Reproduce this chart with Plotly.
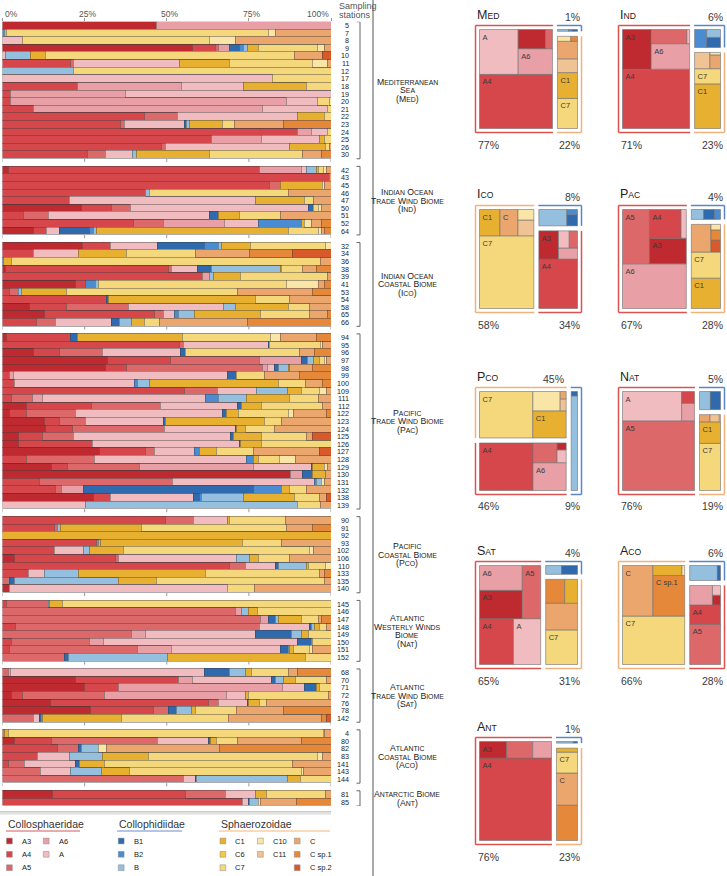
import plotly.graph_objects as go

FIG_W, FIG_H = 727, 876
FONT = "Liberation Sans, Arial, Helvetica, sans-serif"

# ---------------------------------------------------------------- categories
SPECIES = ["A3", "A4", "A5", "A6", "A", "B1", "B2", "B", "C1", "C6", "C7",
           "C10", "C11", "C", "C sp.1", "C sp.2"]
SPECIES_COLORS = {
    "A3": "#be2a2f", "A4": "#d6474c", "A5": "#dd6869", "A6": "#e8a0a6", "A": "#f1bcc0",
    "B1": "#2f6aae", "B2": "#4b8bd2", "B": "#94bfdf",
    "C1": "#e8b031", "C6": "#f2c846", "C7": "#f5d77c", "C10": "#f9e5a5",
    "C11": "#f0c394", "C": "#eba66d", "C sp.1": "#e5883a", "C sp.2": "#d85a2b",
}
FAMILIES = ["Collosphaeridae", "Collophidiidae", "Sphaerozoidae"]
FAMILY_COLORS = {"Collosphaeridae": "#d9534f", "Collophidiidae": "#5b86c5",
                 "Sphaerozoidae": "#f0b27c"}
FAMILY_UNDERLINE = {"Collosphaeridae": "#e48f8f", "Collophidiidae": "#9db3dd",
                    "Sphaerozoidae": "#f7cfa5"}

REGIONS = ["Med", "Ind", "Ico", "Pac", "Pco", "Nat", "Sat", "Aco", "Ant"]
REGION_LABEL_LINES = {
    "Med": ["Mediterranean", "Sea", "(Med)"],
    "Ind": ["Indian Ocean", "Trade Wind Biome", "(Ind)"],
    "Ico": ["Indian Ocean", "Coastal Biome", "(Ico)"],
    "Pac": ["Pacific", "Trade Wind Biome", "(Pac)"],
    "Pco": ["Pacific", "Coastal Biome", "(Pco)"],
    "Nat": ["Atlantic", "Westerly Winds", "Biome", "(Nat)"],
    "Sat": ["Atlantic", "Trade Wind Biome", "(Sat)"],
    "Aco": ["Atlantic", "Coastal Biome", "(Aco)"],
    "Ant": ["Antarctic Biome", "(Ant)"],
}
X_TICKS = [0, 25, 50, 75, 100]
X_TICK_TEXT = ["0%", "25%", "50%", "75%", "100%"]

# ---------------------------------------------------------------- station data (% of reads)
MED_STATIONS = [5, 7, 8, 9, 10, 11, 12, 17, 18, 19, 20, 21, 22, 23, 24, 25, 26, 30]
MED_COMPOSITION = [
    {"A3": 47, "A6": 53},
    {"B2": 0.5, "B": 0.7, "C7": 79.8, "C10": 2, "C": 17},
    {"A": 6, "C7": 57, "C10": 8, "C": 29},
    {"A3": 57.7, "A4": 7, "A5": 1.2, "A6": 3.1, "B1": 3, "B2": 1.3, "B": 1.2, "C1": 3.4, "C7": 18.1, "C10": 2, "C": 2},
    {"A": 1, "B": 7.5, "C1": 4.7, "C7": 75.8, "C": 8.5, "C sp.2": 2.5},
    {"A4": 20.8, "A5": 0.9, "A": 32.3, "C1": 15, "C7": 25.5, "C10": 4.5, "C": 1},
    {"B": 21.7, "C7": 78.3},
    {"A": 82.2, "C7": 17.8},
    {"A4": 22.8, "A6": 31.7, "A": 19, "C1": 19.1, "C7": 7.4},
    {"A4": 2.5, "A6": 35, "A": 62.5},
    {"A4": 2.5, "A6": 84, "A": 9.5, "C7": 3.5, "C10": 0.5},
    {"A4": 9.3, "A6": 69.7, "A": 20, "C7": 1},
    {"A4": 43.1, "A5": 10.2, "A": 36.4, "C1": 8.3, "C7": 2},
    {"A4": 36, "A5": 1, "A": 18.5, "B1": 0.5, "B": 0.9, "C1": 10.1, "C7": 3.5, "C": 15, "C sp.1": 14.5},
    {"A4": 89.8, "A6": 4.2, "A": 5, "C7": 1},
    {"A4": 63.5, "A6": 15.2, "A": 17.9, "C1": 1.4, "C7": 2},
    {"A4": 48.4, "A5": 1.1, "A": 37.8, "C1": 10.9, "C7": 1.3, "C": 0.5},
    {"A4": 26, "A5": 5.3, "A": 8.3, "B": 1.2, "C1": 22.2, "C7": 28.4, "C": 5.8, "C sp.1": 2.8},
]
IND_STATIONS = [42, 43, 45, 46, 47, 50, 51, 52, 64]
IND_COMPOSITION = [
    {"A3": 1.7, "A4": 76.5, "A6": 12.8, "A": 1.4, "B": 3.2, "C1": 0.7, "C7": 1.3, "C10": 0.9, "C": 1.5},
    {"A4": 99.5, "C": 0.5},
    {"A4": 81.2, "A5": 3.3, "C1": 13, "C10": 0.5, "C": 2},
    {"A4": 43.6, "B": 1, "C7": 42.4, "C": 13},
    {"A4": 20.3, "A": 56.6, "C1": 14.9, "C7": 2.8, "C": 5.4},
    {"A3": 23.9, "A4": 9.3, "A5": 5.8, "A": 54.1, "B1": 1.5, "C7": 1.5, "C10": 0.9, "C": 3},
    {"A4": 6.3, "A5": 7.6, "A": 49.2, "B1": 2.6, "C1": 6.4, "C7": 12.4, "C": 15.5},
    {"A4": 39.8, "A5": 9.1, "A6": 18.8, "A": 10.2, "B2": 13.2, "C1": 0.9, "C10": 2, "C": 3, "C sp.1": 3},
    {"A3": 9.3, "A4": 4.1, "A": 3.9, "B1": 9.1, "B2": 1.2, "B": 0.9, "C1": 58.5, "C7": 9.1, "C10": 0.9, "C": 1, "C sp.1": 2},
]
ICO_STATIONS = [32, 34, 36, 38, 39, 41, 53, 54, 58, 65, 66]
ICO_COMPOSITION = [
    {"A3": 24.4, "A4": 8.6, "A": 14.1, "B1": 14.3, "B2": 4.3, "B": 1, "C1": 8.8, "C7": 22.7, "C10": 1.8},
    {"A4": 9.3, "A": 13.7, "C1": 14.8, "C7": 20.8, "C": 16.7, "C sp.1": 13, "C sp.2": 11.7},
    {"B1": 0.4, "C1": 2.3, "C7": 94.2, "C": 3.1},
    {"A3": 1, "A4": 49.5, "A5": 1, "A": 7.8, "B1": 4.4, "B": 20.8, "C1": 0.5, "C7": 6.4, "C": 4.2, "C sp.1": 4.4},
    {"A4": 60.8, "A6": 2.3, "B": 1.1, "C1": 8.1, "C7": 26.7, "C": 1},
    {"A3": 22.3, "A4": 3.1, "B2": 3, "B": 0.7, "C7": 57.4, "C10": 9.6, "C": 1.9, "C sp.1": 2},
    {"A4": 2.2, "A5": 2.6, "B": 1, "C1": 13.7, "C7": 52, "C": 22.8, "C sp.1": 5.7},
    {"A4": 31.7, "B1": 0.5, "C1": 44.7, "C7": 10.4, "C": 12.7},
    {"A3": 8.3, "A4": 11.2, "A5": 18.8, "A": 29.1, "B": 3.4, "C1": 16.4, "C7": 6.4, "C": 6.4},
    {"A3": 12.7, "A4": 33.5, "A5": 2.7, "A": 3.6, "B2": 1, "B": 4.9, "C1": 20, "C7": 15.2, "C": 5.4, "C sp.1": 1},
    {"A4": 10.2, "A5": 6, "A": 17, "B1": 2.5, "B": 3.6, "C1": 3.8, "C7": 4.6, "C": 26.8, "C sp.1": 25.5},
]
PAC_STATIONS = [94, 95, 96, 97, 98, 99, 100, 109, 111, 112, 122, 123, 124, 125, 126,
                127, 128, 129, 130, 131, 132, 138, 139]
PAC_COMPOSITION = [
    {"A3": 1.2, "A4": 19.6, "B1": 2, "C1": 32, "C7": 26.8, "C10": 3.1, "C": 10.9, "C sp.1": 4.4},
    {"A4": 54, "A5": 1, "A": 25.9, "B1": 0.5, "C7": 15.5, "C10": 0.6, "C": 2.5},
    {"A3": 9.5, "A4": 8, "A5": 13, "A": 23.7, "B1": 1.6, "C7": 34.6, "C": 4.7, "C sp.1": 4.9},
    {"A3": 31.9, "A4": 19.3, "A5": 27, "A6": 12.7, "B1": 2, "B": 1.7, "C1": 2, "C7": 1.5, "C10": 0.4, "C": 1.5},
    {"A3": 31.5, "A4": 6.1, "A5": 41.5, "A6": 1.6, "A": 2.2, "B1": 1.1, "B": 3, "C1": 0.5, "C": 6.9, "C sp.1": 5.6},
    {"A4": 2.2, "A6": 1, "A": 65.2, "B1": 2.7, "C7": 8.8, "C": 10.5, "C sp.1": 9.6},
    {"A4": 3.8, "A": 36.5, "B2": 0.7, "B": 3.7, "C1": 39.3, "C7": 8.1, "C": 5.4, "C sp.1": 2.5},
    {"A4": 55.5, "A5": 10, "A": 11.7, "B": 9.5, "C1": 4.4, "C7": 5.3, "C10": 2.1, "C": 1.5},
    {"A4": 2.7, "A5": 6.4, "A6": 3.1, "A": 49.7, "B2": 3.8, "B": 8.6, "C1": 13, "C7": 8.8, "C": 3.9},
    {"A3": 7.3, "A4": 19.8, "A5": 21, "A": 23.4, "B1": 1.3, "C1": 6.1, "C7": 18.6, "C": 2.5},
    {"A3": 2.2, "A4": 5.1, "A5": 15, "A": 44.7, "B1": 1.2, "C1": 3.6, "C7": 15.2, "C10": 1.5, "C": 10, "C sp.1": 1.5},
    {"A3": 12.7, "A4": 4.6, "A5": 8.1, "A": 23.5, "B1": 0.6, "C1": 30.4, "C7": 5.1, "C": 15},
    {"A3": 13.2, "A4": 8.1, "A5": 28.1, "A": 21.4, "B1": 0.4, "C1": 2.9, "C7": 8.8, "C": 17.1},
    {"A3": 4.8, "A4": 7.4, "A5": 9.5, "A": 47.8, "B1": 0.8, "C1": 8.4, "C7": 13.7, "C": 2, "C sp.2": 5.6},
    {"A3": 4.8, "A4": 22.6, "A": 44.6, "B1": 0.5, "C1": 6.4, "C7": 21.1},
    {"A3": 29.4, "A4": 14, "A5": 3, "A": 12, "B2": 1.5, "C1": 5.3, "C7": 11.3, "C": 20.1, "C sp.2": 3.4},
    {"A4": 7.3, "A5": 20.6, "A": 46.4, "B2": 2, "C1": 1.6, "C7": 6.4, "C10": 5, "C": 10.7},
    {"A3": 14.9, "A4": 4.9, "A5": 21.8, "A6": 34.7, "A": 17.8, "B1": 0.4, "C1": 3.5, "C10": 1, "C": 1},
    {"A3": 87.8, "A6": 3.6, "B1": 2.9, "C1": 3.9, "C": 1.8},
    {"A4": 11.2, "A5": 40.6, "A": 43.1, "B2": 0.6, "B": 1.7, "C10": 0.8, "C": 2},
    {"A4": 16.2, "A5": 1.8, "A6": 6.6, "B1": 51.7, "B2": 8.7, "C1": 2.3, "C7": 5.1, "C": 7.6},
    {"A3": 27.6, "A4": 5.4, "A": 25.1, "B1": 1.8, "B2": 0.6, "B": 13, "C1": 15.5, "C7": 7.4, "C": 2.3, "C sp.2": 1.3},
    {"A": 25.4, "B": 64.4, "C7": 7.1, "C": 3.1},
]
PCO_STATIONS = [90, 91, 92, 93, 102, 106, 110, 133, 135, 140]
PCO_COMPOSITION = [
    {"A4": 49.7, "A5": 8.4, "A": 10.3, "C1": 0.6, "C7": 17, "C": 14},
    {"A4": 15.7, "A5": 0.9, "B": 1.2, "C1": 24.5, "C7": 44.2, "C": 7.8, "C sp.1": 5.7},
    {"C1": 100},
    {"A4": 28.6, "A5": 0.7, "B": 0.6, "C1": 43.2, "C7": 11.7, "C": 15.2},
    {"A4": 15.9, "A": 8.7, "B": 1.8, "C1": 10.4, "C7": 56.6, "C10": 1.2, "C": 5.4},
    {"A3": 3.5, "A4": 31, "A5": 0.7, "A": 36.1, "B": 3.8, "C1": 2.8, "C7": 9.4, "C": 12.7},
    {"A4": 69, "A5": 5.1, "A": 9.1, "B1": 0.8, "B": 8.4, "C1": 0.6, "C7": 5.2, "C10": 1.8},
    {"A4": 7.8, "A": 5.1, "B": 10.1, "C1": 38.9, "C7": 34.7, "C": 1.4, "C sp.1": 2},
    {"A5": 1.7, "A": 0.5, "B1": 1.3, "B": 31.7, "C1": 11.7, "C7": 51, "C": 2.1},
    {"A3": 2, "A": 66.4, "C7": 8.2, "C": 23.4},
]
NAT_STATIONS = [145, 146, 147, 148, 149, 150, 151, 152]
NAT_COMPOSITION = [
    {"A4": 1.2, "A5": 12.7, "B": 0.5, "C1": 3.9, "C7": 81.7},
    {"A5": 70.8, "A6": 2, "B": 2, "C1": 2.9, "C7": 22.3},
    {"A5": 78.4, "A6": 2.5, "B1": 2.3, "B": 0.8, "C1": 7.1, "C7": 5, "C": 0.9, "C sp.1": 3},
    {"A4": 4.1, "A5": 74.1, "A": 15.2, "B1": 0.8, "B": 0.8, "C1": 1.5, "C7": 2, "C": 1.5},
    {"A5": 39.3, "A6": 4.1, "A": 33.5, "B1": 11.1, "B": 2.9, "C1": 2.2, "C7": 6.9},
    {"A4": 2.7, "A5": 23.7, "A6": 4.3, "A": 59.1, "B1": 4.3, "C1": 0.4, "C7": 5.5},
    {"A4": 2.2, "A5": 38.9, "A6": 10.2, "A": 33.2, "B1": 2.5, "B": 0.5, "C1": 1, "C7": 5.1, "C10": 0.9, "C": 5.5},
    {"A5": 19, "B1": 1, "B": 30.3, "C1": 42, "C7": 7.7},
]
SAT_STATIONS = [68, 70, 71, 72, 76, 78, 142]
SAT_COMPOSITION = [
    {"A5": 1.7, "A6": 0.8, "A": 59.1, "B1": 7.6, "B": 4.9, "C1": 1.7, "C7": 11.2, "C": 2.8, "C sp.1": 10.2},
    {"A3": 22.3, "A4": 31.4, "A6": 4.2, "A": 24, "B1": 1.1, "B": 2.5, "C1": 3.8, "C7": 9.2, "C": 1.5},
    {"A3": 24.9, "A4": 10.5, "A6": 49.9, "A": 6.5, "B1": 3.8, "C1": 0.8, "C7": 3.6},
    {"A3": 2.7, "A4": 3.4, "A5": 24.8, "A6": 37.3, "A": 5.9, "C1": 0.9, "C7": 24.2, "C": 0.8},
    {"A3": 14.7, "A4": 47.9, "A5": 3.1, "A": 8.8, "B1": 0.5, "C1": 3.2, "C7": 2.2, "C": 19.6},
    {"A3": 26.9, "A4": 19, "A5": 4.6, "B1": 2.5, "B": 4.6, "C1": 1, "C7": 12.5, "C": 14.4, "C sp.1": 14.5},
    {"A5": 9.5, "A": 1.7, "B1": 0.6, "B": 0.4, "C1": 24, "C7": 32.7, "C": 28.3, "C sp.1": 1.3, "C sp.2": 1.5},
]
ACO_STATIONS = [4, 80, 82, 83, 141, 143, 144]
ACO_COMPOSITION = [
    {"A5": 0.5, "C1": 1.2, "C7": 96, "C10": 0.3, "C": 2},
    {"A3": 3.8, "A4": 11.1, "A5": 32.3, "A": 15.6, "B1": 0.5, "C1": 1.9, "C7": 6.3, "C": 19.6, "C sp.1": 8.9},
    {"A4": 16.8, "A5": 6.2, "B1": 1.1, "B": 5.2, "C10": 2.4, "C": 34.3, "C sp.1": 34},
    {"A4": 10.6, "A": 9.7, "B": 10.1, "C1": 14, "C7": 51.5, "C10": 1.6, "C": 2.5},
    {"A4": 1.7, "A5": 5.1, "A": 15.5, "B1": 1.1, "C1": 7.8, "C7": 57.1, "C": 11.7},
    {"A5": 11.6, "A": 9.2, "B": 9.2, "C1": 8.8, "C7": 52.1, "C10": 0.6, "C": 8.5},
    {"A5": 55.2, "A": 3.4, "B1": 0.4, "B": 27.7, "C1": 4.1, "C7": 9.2},
]
ANT_STATIONS = [81, 85]
ANT_COMPOSITION = [
    {"A3": 15.2, "A4": 40.6, "A5": 12.2, "A": 8.9, "C1": 3.5, "C7": 17.8, "C": 1.8},
    {"A4": 73, "A": 1.8, "B1": 0.4, "B": 2.7, "C10": 0.6, "C": 11.1, "C sp.1": 10.4},
]
STATIONS = {"Med": MED_STATIONS, "Ind": IND_STATIONS, "Ico": ICO_STATIONS, "Pac": PAC_STATIONS,
            "Pco": PCO_STATIONS, "Nat": NAT_STATIONS, "Sat": SAT_STATIONS, "Aco": ACO_STATIONS,
            "Ant": ANT_STATIONS}
COMPOSITION = {"Med": MED_COMPOSITION, "Ind": IND_COMPOSITION, "Ico": ICO_COMPOSITION,
               "Pac": PAC_COMPOSITION, "Pco": PCO_COMPOSITION, "Nat": NAT_COMPOSITION,
               "Sat": SAT_COMPOSITION, "Aco": ACO_COMPOSITION, "Ant": ANT_COMPOSITION}

# ---------------------------------------------------------------- regional treemaps
TREE_MED = [("Collosphaeridae", 77, [("A4", 42.1), ("A", 18.5), ("A6", 9.4), ("A3", 5.6), ("A5", 1.4)]),
            ("Sphaerozoidae", 22, [("C7", 7.2), ("C1", 6.2), ("C11", 3.3), ("C", 4.2), ("C10", 0.8), ("C sp.1", 0.4)]),
            ("Collophidiidae", 1, [("B", 0.55), ("B2", 0.2), ("B1", 0.25)])]
TREE_IND = [("Collosphaeridae", 71, [("A4", 42.6), ("A3", 12.2), ("A6", 10.5), ("A5", 5.4), ("A", 0.4)]),
            ("Sphaerozoidae", 23, [("C1", 13.5), ("C7", 4.6), ("C11", 2.9), ("C", 1.7), ("C10", 0.3)]),
            ("Collophidiidae", 6, [("B2", 2.8), ("B1", 1.8), ("B", 1.4)])]
TREE_ICO = [("Sphaerozoidae", 58, [("C7", 42.6), ("C1", 5.8), ("C", 5.1), ("C11", 2.7), ("C10", 1.8)]),
            ("Collosphaeridae", 34, [("A4", 21.7), ("A3", 6.3), ("A6", 2.4), ("A", 2.1), ("A5", 1.6)]),
            ("Collophidiidae", 8, [("B", 5.8), ("B1", 1.5), ("B2", 0.7)])]
TREE_PAC = [("Collosphaeridae", 67, [("A6", 30.2), ("A5", 15.5), ("A3", 10.0), ("A4", 9.6), ("A", 1.6)]),
            ("Sphaerozoidae", 28, [("C1", 10.1), ("C7", 8.7), ("C", 6.2), ("C sp.2", 1.3), ("C sp.1", 1.1), ("C10", 0.6)]),
            ("Collophidiidae", 4, [("B", 1.7), ("B1", 1.5), ("B2", 0.8)])]
TREE_PCO = [("Collosphaeridae", 46, [("A4", 28.4), ("A6", 10.3), ("A5", 5.3), ("A", 1.3), ("A3", 0.7)]),
            ("Sphaerozoidae", 45, [("C7", 27.7), ("C1", 10.1), ("C10", 5.9), ("C11", 0.8), ("C", 0.5)]),
            ("Collophidiidae", 9, [("B", 8.6), ("B1", 0.4)])]
TREE_NAT = [("Collosphaeridae", 76, [("A5", 53.5), ("A", 18.5), ("A6", 2.4), ("A4", 1.6)]),
            ("Sphaerozoidae", 19, [("C7", 11.8), ("C1", 5.4), ("C", 0.9), ("C11", 0.8), ("C10", 0.1)]),
            ("Collophidiidae", 5, [("B", 2.6), ("B1", 2.4)])]
TREE_SAT = [("Collosphaeridae", 65, [("A4", 16.7), ("A", 13.4), ("A3", 13.0), ("A6", 11.4), ("A5", 10.5)]),
            ("Sphaerozoidae", 31, [("C7", 12.6), ("C", 9.7), ("C sp.1", 5.2), ("C1", 3.5)]),
            ("Collophidiidae", 4, [("B", 2.0), ("B1", 2.0)])]
TREE_ACO = [("Sphaerozoidae", 66, [("C7", 32.3), ("C", 16.5), ("C sp.1", 13.8), ("C1", 3.1), ("C10", 0.3)]),
            ("Collosphaeridae", 28, [("A5", 14.2), ("A4", 6.9), ("A6", 5.1), ("A3", 0.9), ("A", 0.9)]),
            ("Collophidiidae", 6, [("B", 5.4), ("B1", 0.6)])]
TREE_ANT = [("Collosphaeridae", 76, [("A4", 63.3), ("A3", 4.8), ("A5", 4.6), ("A6", 3.3)]),
            ("Sphaerozoidae", 23, [("C sp.1", 8.8), ("C", 8.0), ("C7", 5.2), ("C1", 1.0)]),
            ("Collophidiidae", 1, [("B", 0.8), ("B1", 0.2)])]
TREES = {"Med": TREE_MED, "Ind": TREE_IND, "Ico": TREE_ICO, "Pac": TREE_PAC, "Pco": TREE_PCO,
         "Nat": TREE_NAT, "Sat": TREE_SAT, "Aco": TREE_ACO, "Ant": TREE_ANT}
TREE_LABELS = {
    "Med": ["A", "A6", "A4", "C1", "C7"],
    "Ind": ["A3", "A6", "A4", "C7", "C1"],
    "Ico": ["C1", "C", "C7", "A3", "A4"],
    "Pac": ["A5", "A4", "A3", "A6", "C7", "C1"],
    "Pco": ["C7", "C1", "A4", "A6", "B"],
    "Nat": ["A", "A5", "B", "C1", "C7"],
    "Sat": ["A6", "A5", "A3", "A4", "A", "C7"],
    "Aco": ["C", "C sp.1", "C7", "A4", "A5"],
    "Ant": ["A3", "A4", "C7", "C", "C sp.1"],
}

# ---------------------------------------------------------------- layout geometry (px)
BAR_X0, BAR_X1 = 2.5, 331.0
BAR_Y0, BAR_Y1 = 21.7, 806.0
PANEL_POS = {"Med": (475, 25), "Ind": (618, 25), "Ico": (475, 205), "Pac": (618, 205),
             "Pco": (475, 387), "Nat": (618, 387), "Sat": (475, 561), "Aco": (618, 561),
             "Ant": (475, 737)}
BOX_W, BOX_H, BOX_INSET = 98.0, 99.0, 4.5
GAP, BRK = 5.0, 4.0


def fx(px):
    return px / FIG_W


def fy(py):
    return 1 - py / FIG_H


def small_caps(text, small):
    out, run, run_small = "", "", None

    def flush(r, s):
        if not r:
            return ""
        return f'<span style="font-size:{small}px">{r}</span>' if s else r

    for ch in text:
        s = ch.islower()
        if run_small is None or s == run_small:
            run += ch.upper()
            run_small = s
        else:
            out += flush(run, run_small)
            run, run_small = ch.upper(), s
    out += flush(run, run_small)
    return out


def squarify(values, x0, y0, x1, y1):
    """d3 squarified treemap (ratio 1), y pointing down."""
    n = len(values)
    rects = [None] * n
    value = float(sum(values))
    i0 = 0
    while i0 < n:
        dx, dy = x1 - x0, y1 - y0
        i1 = i0
        sumv = values[i1]
        i1 += 1
        minv = maxv = sumv
        alpha = max(dy / dx, dx / dy) / value
        beta = sumv * sumv * alpha
        min_ratio = max(maxv / beta, beta / minv)
        while i1 < n:
            nv = values[i1]
            sumv += nv
            minv, maxv = min(minv, nv), max(maxv, nv)
            beta = sumv * sumv * alpha
            new_ratio = max(maxv / beta, beta / minv)
            if new_ratio > min_ratio:
                sumv -= nv
                break
            min_ratio = new_ratio
            i1 += 1
        if dx < dy:
            h = dy * sumv / value
            xx = x0
            for k in range(i0, i1):
                w = dx * values[k] / sumv
                rects[k] = (xx, y0, xx + w, y0 + h)
                xx += w
            y0 += h
        else:
            w = dx * sumv / value
            yy = y0
            for k in range(i0, i1):
                h = dy * values[k] / sumv
                rects[k] = (x0, yy, x0 + w, yy + h)
                yy += h
            x0 += w
        value -= sumv
        i0 = i1
    return rects


fig = go.Figure()
shapes, annotations = [], []

# ---------------------------------------------------------------- stacked bars
positions, station_labels, comps = [], [], []
group_spans = {}
pos = 0
for r in REGIONS:
    start = pos
    for st, comp in zip(STATIONS[r], COMPOSITION[r]):
        positions.append(pos)
        station_labels.append(str(st))
        comps.append(comp)
        pos += 1
    group_spans[r] = (start, pos - 1)
    pos += 1
n_rows = pos - 1
row_px = (BAR_Y1 - BAR_Y0) / n_rows

for s in SPECIES:
    xs = [c.get(s) for c in comps]
    if all(v is None for v in xs):
        continue
    fig.add_trace(go.Bar(
        x=xs, y=positions, orientation="h", name=s,
        marker=dict(color=SPECIES_COLORS[s], line=dict(color="rgba(60,60,60,0.85)", width=0.5)),
        hoverinfo="skip", showlegend=False))

# station numbers
for p, lab in zip(positions, station_labels):
    annotations.append(dict(x=fx(351), y=p, xref="paper", yref="y", text=lab, showarrow=False,
                            xanchor="right", yanchor="middle",
                            font=dict(size=7.2, color="#222", family=FONT)))

# group brackets, labels and tick marks under each group
for gi, r in enumerate(REGIONS):
    a, b = group_spans[r]
    top, bot = a - 0.5, b + 0.5
    shapes.append(dict(type="line", xref="paper", yref="y", x0=fx(360), x1=fx(360), y0=top, y1=bot,
                       line=dict(color="#555", width=0.9)))
    for yy in (top, bot):
        shapes.append(dict(type="line", xref="paper", yref="y", x0=fx(356.5), x1=fx(360), y0=yy, y1=yy,
                           line=dict(color="#555", width=0.9)))
    lines = REGION_LABEL_LINES[r]
    nl = len(lines)
    for i, ln in enumerate(lines):
        annotations.append(dict(x=fx(407), y=(a + b) / 2, xref="paper", yref="y",
                                yshift=((nl - 1) / 2 - i) * 8.7,
                                text=small_caps(ln, 6.9), showarrow=False, xanchor="center",
                                yanchor="middle", font=dict(size=8.7, color="#222", family=FONT)))
    if gi < len(REGIONS) - 1:
        for t in X_TICKS:
            shapes.append(dict(type="line", xref="x", yref="y", x0=t, x1=t, y0=bot,
                               y1=bot + 3.2 / row_px, line=dict(color="#999", width=1)))

# top axis labels
for t, txt in zip(X_TICKS, X_TICK_TEXT):
    xp = BAR_X0 + (BAR_X1 - BAR_X0) * t / 100
    anchor = "left" if t == 0 else ("right" if t == 100 else "center")
    if anchor == "center":
        xp += 2.5
    annotations.append(dict(x=fx(xp), y=fy(13.5), xref="paper", yref="paper", text=txt,
                            showarrow=False, xanchor=anchor, yanchor="middle",
                            font=dict(size=8.5, color="#555", family=FONT)))
annotations.append(dict(x=fx(337), y=fy(5.5), xref="paper", yref="paper", text="Sampling",
                        showarrow=False, xanchor="left", yanchor="middle",
                        font=dict(size=9, color="#555", family=FONT)))
annotations.append(dict(x=fx(337), y=fy(14.5), xref="paper", yref="paper", text="stations",
                        showarrow=False, xanchor="left", yanchor="middle",
                        font=dict(size=9, color="#555", family=FONT)))

# separator line
shapes.append(dict(type="line", xref="paper", yref="paper", x0=fx(373), x1=fx(373), y0=0, y1=1,
                   line=dict(color="#555", width=1)))

# ---------------------------------------------------------------- legend
shapes.append(dict(type="line", xref="paper", yref="paper", x0=fx(0), x1=fx(331), y0=fy(811.8),
                   y1=fy(811.8), line=dict(color="#bdbdbd", width=1.3)))
shapes.append(dict(type="line", xref="paper", yref="paper", x0=fx(0), x1=fx(331), y0=fy(813.8),
                   y1=fy(813.8), line=dict(color="#d8d8d8", width=1.3)))
LEGEND_HEAD_X = {"Collosphaeridae": (6, 80), "Collophidiidae": (117, 182), "Sphaerozoidae": (219, 330)}
for fam, (x0, x1) in LEGEND_HEAD_X.items():
    annotations.append(dict(x=fx(x0), y=fy(823.5), xref="paper", yref="paper", text=fam,
                            showarrow=False, xanchor="left", yanchor="middle",
                            font=dict(size=10.5, color="#333", family=FONT)))
    shapes.append(dict(type="line", xref="paper", yref="paper", x0=fx(x0), x1=fx(x1), y0=fy(831),
                       y1=fy(831), line=dict(color=FAMILY_UNDERLINE[fam], width=1.6)))
LEGEND_COLS = {"A3": (6.5, 0), "A4": (6.5, 1), "A5": (6.5, 2), "A6": (43.3, 0), "A": (43.3, 1),
               "B1": (118.3, 0), "B2": (118.3, 1), "B": (118.3, 2),
               "C1": (220, 0), "C6": (220, 1), "C7": (220, 2), "C10": (257.5, 0), "C11": (257.5, 1),
               "C": (294.3, 0), "C sp.1": (294.3, 1), "C sp.2": (294.3, 2)}
LEGEND_ROWS = [841, 854.3, 867.7]
for s in SPECIES:
    cx, row = LEGEND_COLS[s]
    cy = LEGEND_ROWS[row]
    shapes.append(dict(type="rect", xref="paper", yref="paper", x0=fx(cx), x1=fx(cx + 5.8),
                       y0=fy(cy + 2.9), y1=fy(cy - 2.9), fillcolor=SPECIES_COLORS[s],
                       line=dict(color="#8a8a8a", width=0.5)))
    annotations.append(dict(x=fx(cx + 13.3), y=fy(cy), xref="paper", yref="paper", text=s,
                            showarrow=False, xanchor="left", yanchor="middle",
                            font=dict(size=7.5, color="#222", family=FONT)))

# ---------------------------------------------------------------- regional treemaps
for r in REGIONS:
    PX, PY = PANEL_POS[r]
    bx0, by0 = PX + BOX_INSET, PY + BOX_INSET
    tree = TREES[r]
    fam_rects = squarify([f[1] for f in tree], 0.0, 0.0, 1.0, 1.0)
    eps = 1e-6
    annotations.append(dict(x=fx(PX), y=fy(PY - 10.5), xref="paper", yref="paper",
                            text=small_caps(r, 8.6), showarrow=False, xanchor="left",
                            yanchor="middle", font=dict(size=12.5, color="#222", family=FONT)))
    for (fam, pct, items), (ux0, uy0, ux1, uy1) in zip(tree, fam_rects):
        fy0, fy1 = 1 - uy1, 1 - uy0  # flip vertically: first rows at bottom
        left, right = ux0 < eps, ux1 > 1 - eps
        top, bottom = fy0 < eps, fy1 > 1 - eps
        X0, X1 = bx0 + ux0 * BOX_W, bx0 + ux1 * BOX_W
        Y0, Y1 = by0 + fy0 * BOX_H, by0 + fy1 * BOX_H
        if not left:
            X0 += GAP / 2
        if not right:
            X1 -= GAP / 2
        if not top:
            Y0 += GAP / 2
        if not bottom:
            Y1 -= GAP / 2
        labels_set = set(TREE_LABELS[r])
        fig.add_trace(go.Treemap(
            ids=[sp for sp, _ in items], labels=[sp for sp, _ in items],
            parents=[""] * len(items), values=[v for _, v in items],
            text=[sp if sp in labels_set else "" for sp, _ in items],
            texttemplate="%{text}", textposition="top left",
            textfont=dict(size=7.5, color="#3a3a3a", family=FONT),
            insidetextfont=dict(size=7.5, color="#3a3a3a", family=FONT),
            marker=dict(colors=[SPECIES_COLORS[sp] for sp, _ in items],
                        line=dict(color="#707070", width=0.6), pad=dict(t=0, l=0, r=0, b=0)),
            tiling=dict(packing="squarify", squarifyratio=1, flip="y", pad=0),
            sort=False, pathbar=dict(visible=False), hoverinfo="skip",
            domain=dict(x=[fx(X0), fx(X1)], y=[fy(Y1), fy(Y0)])))
        col = FAMILY_COLORS[fam]
        xa = X0 - BRK if left else X0 - 0.5
        xb = X1 + BRK if right else X1 + 0.5
        ya = Y0 - BRK if top else Y0
        yb = Y1 + BRK if bottom else Y1
        segs = []
        if top:
            segs.append((xa, Y0 - BRK, xb, Y0 - BRK))
        if bottom:
            segs.append((xa, Y1 + BRK, xb, Y1 + BRK))
        if left:
            segs.append((X0 - BRK, ya, X0 - BRK, yb))
        if right:
            segs.append((X1 + BRK, ya, X1 + BRK, yb))
        for (sx0, sy0, sx1, sy1) in segs:
            shapes.append(dict(type="line", xref="paper", yref="paper", x0=fx(sx0), x1=fx(sx1),
                               y0=fy(sy0), y1=fy(sy1), line=dict(color=col, width=1.5)))
        if bottom:
            ly = Y1 + BRK + 12
            if left:
                lx, anc = X0 - BRK, "left"
            else:
                lx, anc = (X1 + BRK if right else X1), "right"
        else:
            ly = Y0 - BRK - 8.5
            lx, anc = (X1 + BRK if right else X1), "right"
        annotations.append(dict(x=fx(lx), y=fy(ly), xref="paper", yref="paper", text=f"{pct}%",
                                showarrow=False, xanchor=anc, yanchor="middle",
                                font=dict(size=10.5, color="#3a3a3a", family=FONT)))

fig.update_layout(
    width=FIG_W, height=FIG_H, margin=dict(l=0, r=0, t=0, b=0),
    paper_bgcolor="white", plot_bgcolor="white",
    font=dict(family=FONT, color="#333"),
    barmode="stack", bargap=0, showlegend=False,
    uniformtext=dict(minsize=7.5, mode="hide"),
    xaxis=dict(domain=[fx(BAR_X0), fx(BAR_X1)], range=[0, 100], side="top", ticks="outside",
               ticklen=3, tickcolor="#999", tickvals=X_TICKS, showticklabels=False,
               showgrid=False, zeroline=False, showline=False, fixedrange=True),
    yaxis=dict(domain=[fy(BAR_Y1), fy(BAR_Y0)], range=[n_rows - 0.5, -0.5], showticklabels=False,
               showgrid=False, zeroline=False, showline=False, ticks="", fixedrange=True),
    shapes=shapes, annotations=annotations,
)

fig.write_html(
    "out.html",
    config={"displayModeBar": False},
    post_script="document.body.style.margin='0';document.body.style.overflow='hidden';",
)
